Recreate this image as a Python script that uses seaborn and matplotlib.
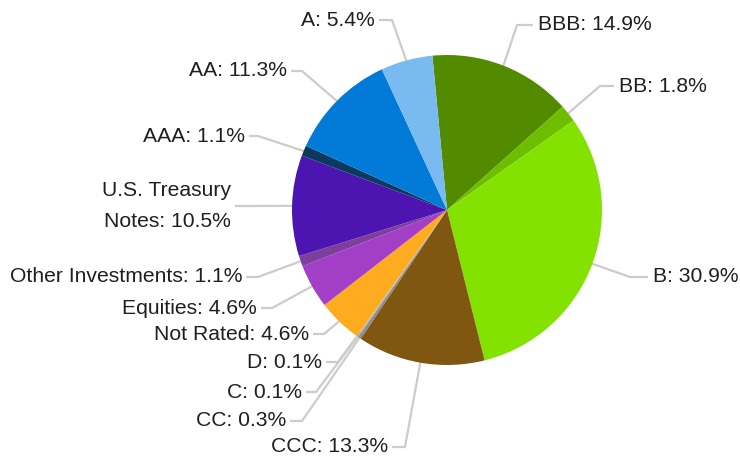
import numpy as np
import matplotlib
matplotlib.use('Agg')
import matplotlib.pyplot as plt
import seaborn as sns

#slices, clockwise from the top
labels = ['BBB', 'BB', 'B', 'CCC', 'CC', 'C', 'D', 'Not Rated', 'Equities',
          'Other Investments', 'U.S. Treasury\nNotes', 'AAA', 'AA', 'A']
shares = [14.9, 1.8, 30.9, 13.3, 0.3, 0.1, 0.1, 4.6, 4.6, 1.1, 10.5, 1.1, 11.3, 5.4]
hexes = ['#528b00', '#6dbd00', '#84e200', '#7f5710', '#8c8c8c', '#a0a0a0', '#b4b4b4',
         '#ffab1f', '#a33fc6', '#7e3e9e', '#4c14b0', '#0b3a5e', '#017bd7', '#79baf0']

#label layout in pixels (y down): text x, text y, side, elbow x
label_pos = [(538, 25, 'left', 517), (619, 86, 'left', 600), (653, 277, 'left', 630),
             (388, 447, 'right', 405), (286, 421, 'right', 302), (302, 392, 'right', 316),
             (322, 362, 'right', 338), (309, 334, 'right', 324), (257, 308, 'right', 272),
             (242, 277, 'right', 258), (231, 206, 'right', 258), (245, 136, 'right', 258),
             (287, 71, 'right', 302), (375, 20, 'right', 392)]

sns.set_style('white')
plt.rcParams['font.family'] = ['Liberation Sans', 'DejaVu Sans']

W, H = 740, 457
cx, cy, R = 447, H - 210, 155

fig = plt.figure(figsize=(7.4, 4.57), dpi=100)
ax = fig.add_axes([0, 0, 1, 1])
wedges, _ = ax.pie(shares, colors=sns.color_palette(hexes), startangle=95.4,
                   counterclock=False, center=(cx, cy), radius=R,
                   wedgeprops=dict(linewidth=0, zorder=3))

for w, lab, val, (tx, ty, side, ex) in zip(wedges, labels, shares, label_pos):
    mid = np.deg2rad((w.theta1 + w.theta2) / 2)
    px, py = cx + 0.97 * R * np.cos(mid), cy + 0.97 * R * np.sin(mid)
    ty = H - ty
    sx = tx + 4 if side == 'right' else tx - 5
    ax.plot([sx, ex, px], [ty, ty, py], color='#cccccc', lw=1.6, zorder=1,
            solid_capstyle='butt')
    ax.text(tx, ty, '%s: %.1f%%' % (lab, val), ha=side, va='center',
            multialignment='right', fontsize=15.2, color='#1f1f1f',
            linespacing=1.75, zorder=4)

ax.set_xlim(0, W)
ax.set_ylim(0, H)
ax.set_aspect('equal')
ax.axis('off')
fig.savefig('out.png', dpi=100, facecolor='white')
